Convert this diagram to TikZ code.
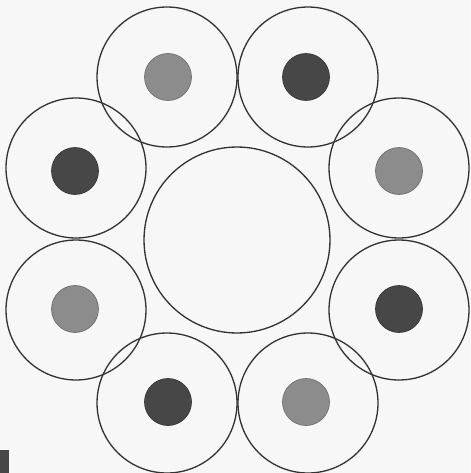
\documentclass[tikz,border=0pt]{standalone}
\usepackage{color}
\definecolor{inkgray}{rgb}{0.2,0.2,0.2}
\definecolor{darkdot}{rgb}{0.28,0.28,0.28}
\definecolor{lightdot}{rgb}{0.55,0.55,0.55}
\definecolor{paper}{rgb}{0.97,0.97,0.97}
\usepackage{tikz}
\usetikzlibrary{positioning}
\tikzset{
	hub/.style={
		draw=inkgray, circle, line width=0.75pt,
		minimum size=3.72cm, inner sep=0pt
	},
	cell/.style={
		draw=inkgray, circle, line width=0.75pt,
		minimum size=2.8cm, inner sep=0pt
	},
	darkspot/.style={
		circle, fill=darkdot, draw=darkdot!80!black, line width=0.4pt,
		minimum size=0.94cm, inner sep=0pt
	},
	lightspot/.style={
		circle, fill=lightdot, draw=lightdot!80!black, line width=0.4pt,
		minimum size=0.94cm, inner sep=0pt
	}
}
\begin{document}
\begin{tikzpicture}[x=0.02cm, y=-0.02cm]
				\fill[paper] (0,0) rectangle (470,473);
				\useasboundingbox (0,0) rectangle (470,473);
				% center and ring of cells
				\node[hub]  (hub) at (237,240) {};
				\node[cell] (topL) at (167,77) {};
				\node[cell] (topR) at (308,77) {};
				\node[cell] (leftU) at (76,168) {};
				\node[cell] (rightU) at (399,168) {};
				\node[cell] (leftD) at (76,310) {};
				\node[cell] (rightD) at (399,310) {};
				\node[cell] (botL) at (167,403) {};
				\node[cell] (botR) at (308,403) {};
				% spots
				\node[lightspot] (sTopL) at (168,77) {};
				\node[darkspot]  (sTopR) at (306,77) {};
				\node[darkspot]  (sLeftU) at (75,171) {};
				\node[lightspot] (sRightU) at (399,171) {};
				\node[lightspot] (sLeftD) at (75,309) {};
				\node[darkspot]  (sRightD) at (399,309) {};
				\node[darkspot]  (sBotL) at (168,402) {};
				\node[lightspot] (sBotR) at (306,402) {};
				% corner mark
				\fill[darkdot] (0,450) rectangle (9,473);
			\end{tikzpicture}
\end{document}
